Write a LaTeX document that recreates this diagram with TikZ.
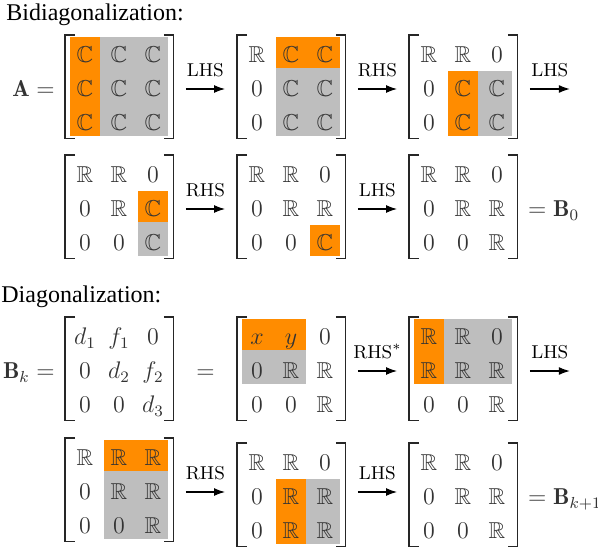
\documentclass[tikz,border=0pt]{standalone}
\usepackage{amsmath,amssymb}
\usepackage{fontspec}
\usepackage{tikz}
\usetikzlibrary{arrows.meta,positioning,calc,backgrounds}
\newfontfamily\headfont{Liberation Serif}
\definecolor{hhorange}{HTML}{FF8C00}
\definecolor{hhgray}{HTML}{BEBEBE}
\newcommand\bbR{\mathbb{R}}
\newcommand\bbC{\mathbb{C}}

% the nine entries of a matrix frame, row by row
\newcommand\matentries[2]{%
  \foreach \e [count=\i] in {#2} {
    \pgfmathtruncatemacro\cc{mod(\i-1,3)}
    \pgfmathtruncatemacro\rr{(\i-1)/3}
    \node[ent] (#1-\i) at ([shift={(20+34*\cc,20+34*\rr)}]#1.north west) {$\e$};
  }}
% shaded block from one cell to another
\newcommand\cellfill[3]{%
  \fill[#1] ([shift={(-7.5pt,9pt)}]#2.center) rectangle ([shift={(7.5pt,-6.5pt)}]#3.center);}

\begin{document}
\begin{tikzpicture}[x=0.5pt, y=-0.5pt,
  frame/.style={minimum width=54pt, minimum height=51.5pt, inner sep=0pt, anchor=north west},
  brk/.style={line width=0.65pt, black!85},
  ent/.style={font=\fontsize{11.5}{14}\selectfont, inner sep=0pt, text height=7.8pt, text depth=0pt, text=black!80},
  head/.style={font=\headfont\fontsize{12}{14}\selectfont, inner sep=0pt, anchor=base west},
  lab/.style={font=\fontsize{9.3}{11}\selectfont, above=6pt, inner sep=0pt},
  arr/.style={-{Latex[length=5.5pt,width=4pt]}, line width=0.55pt, shorten <=6pt, shorten >=6pt}]
\useasboundingbox (0,0) rectangle (598,551);

% headings
\node[head] (bidiag) at (6,21) {Bidiagonalization:};
\node[head] (diag) at (1,302) {Diagonalization:};

% matrix frames
\node[frame] (m1) at (65,35) {};
\node[frame] (m2) at (237,35) {};
\node[frame] (m3) at (409,35) {};
\node[frame] (m4) at (65,155) {};
\node[frame] (m5) at (237,155) {};
\node[frame] (m6) at (409,155) {};
\node[frame] (m7) at (65,317) {};
\node[frame] (m8) at (237,317) {};
\node[frame] (m9) at (409,317) {};
\node[frame] (m10) at (65,438) {};
\node[frame] (m11) at (237,443) {};
\node[frame] (m12) at (409,443) {};
\foreach \m in {1,...,12} {
  \draw[brk] ([xshift=5pt]m\m.north west) -- (m\m.north west) -- (m\m.south west) -- ++(5pt,0);
  \draw[brk] ([xshift=-5pt]m\m.north east) -- (m\m.north east) -- (m\m.south east) -- ++(-5pt,0);
}

% entries
\matentries{m1}{\bbC,\bbC,\bbC,\bbC,\bbC,\bbC,\bbC,\bbC,\bbC}
\matentries{m2}{\bbR,\bbC,\bbC,0,\bbC,\bbC,0,\bbC,\bbC}
\matentries{m3}{\bbR,\bbR,0,0,\bbC,\bbC,0,\bbC,\bbC}
\matentries{m4}{\bbR,\bbR,0,0,\bbR,\bbC,0,0,\bbC}
\matentries{m5}{\bbR,\bbR,0,0,\bbR,\bbR,0,0,\bbC}
\matentries{m6}{\bbR,\bbR,0,0,\bbR,\bbR,0,0,\bbR}
\matentries{m7}{d_1,f_1,0,0,d_2,f_2,0,0,d_3}
\matentries{m8}{x,y,0,0,\bbR,\bbR,0,0,\bbR}
\matentries{m9}{\bbR,\bbR,0,\bbR,\bbR,\bbR,0,0,\bbR}
\matentries{m10}{\bbR,\bbR,\bbR,0,\bbR,\bbR,0,0,\bbR}
\matentries{m11}{\bbR,\bbR,0,0,\bbR,\bbR,0,\bbR,\bbR}
\matentries{m12}{\bbR,\bbR,0,0,\bbR,\bbR,0,0,\bbR}

% equalities
\node[ent, anchor=east] (Aeq) at ([xshift=-5pt]m1.west |- m1-4) {$\mathbf{A} =$};
\node[ent, anchor=west] (B0eq) at ([xshift=5pt]m6.east |- m6-4) {$= \mathbf{B}_0$};
\node[ent, anchor=east] (Bkeq) at ([xshift=-5pt]m7.west |- m7-4) {$\mathbf{B}_k =$};
\node[ent] (eqk) at ($(m7.east |- m7-4)!0.5!(m8.west |- m7-4)$) {$=$};
\node[ent, anchor=west] (Bnexteq) at ([xshift=5pt]m12.east |- m12-4) {$= \mathbf{B}_{k+1}$};

% steps
\coordinate (next1) at ([xshift=32pt]m3.east |- m3-6);
\coordinate (next2) at ([xshift=32pt]m9.east |- m9-6);
\draw[arr] (m1.east |- m1-6) -- node[lab]{LHS} (m2.west |- m1-6);
\draw[arr] (m2.east |- m2-6) -- node[lab]{RHS} (m3.west |- m2-6);
\draw[arr] (m3.east |- m3-6) -- node[lab]{LHS} (next1);
\draw[arr] (m4.east |- m4-6) -- node[lab]{RHS} (m5.west |- m4-6);
\draw[arr] (m5.east |- m5-6) -- node[lab]{LHS} (m6.west |- m5-6);
\draw[arr] (m8.east |- m8-6) -- node[lab]{RHS$^*$} (m9.west |- m8-6);
\draw[arr] (m9.east |- m9-6) -- node[lab]{LHS} (next2);
\draw[arr] (m10.east |- m10-6) -- node[lab]{RHS} (m11.west |- m10-6);
\draw[arr] (m11.east |- m10-6) -- node[lab]{LHS} (m12.west |- m10-6);

% shaded blocks
\begin{scope}[on background layer]
\cellfill{hhgray}{m1-1}{m1-9} \cellfill{hhorange}{m1-1}{m1-7}
\cellfill{hhgray}{m2-2}{m2-9} \cellfill{hhorange}{m2-2}{m2-3}
\cellfill{hhgray}{m3-5}{m3-9} \cellfill{hhorange}{m3-5}{m3-8}
\cellfill{hhgray}{m4-6}{m4-9} \cellfill{hhorange}{m4-6}{m4-6}
\cellfill{hhorange}{m5-9}{m5-9}
\cellfill{hhgray}{m8-1}{m8-5} \cellfill{hhorange}{m8-1}{m8-2}
\cellfill{hhgray}{m9-1}{m9-6} \cellfill{hhorange}{m9-1}{m9-4}
\cellfill{hhgray}{m10-2}{m10-9} \cellfill{hhorange}{m10-2}{m10-3}
\cellfill{hhgray}{m11-5}{m11-9} \cellfill{hhorange}{m11-5}{m11-8}
\end{scope}
\end{tikzpicture}
\end{document}
